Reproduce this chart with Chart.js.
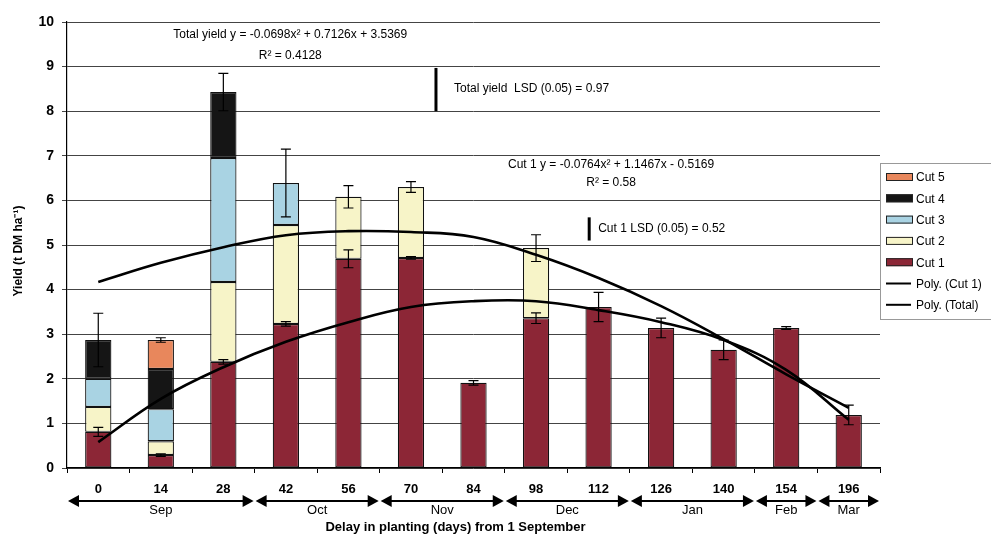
<!DOCTYPE html>
<html lang="en">
<head>
  <meta charset="UTF-8">
  <title>Yield by planting delay</title>
  <script src="https://cdn.jsdelivr.net/npm/chart.js"></script>
  <style>
    html, body { margin: 0; padding: 0; background: #fff; }
    #wrap { width: 991px; height: 537px; }
  </style>
</head>
<body>
  <div id="wrap"><canvas id="yieldChart" width="991" height="537"></canvas></div>

  <script>
    // days after 1 September
    const categories = ['0', '14', '28', '42', '56', '70', '84', '98', '112', '126', '140', '154', '196'];

    // month bands under the axis (first / last category index)
    const monthNames = ['Sep', 'Oct', 'Nov', 'Dec', 'Jan', 'Feb', 'Mar'];
    const monthStart = [0, 3, 5, 7, 9, 11, 12];
    const monthEnd   = [2, 4, 6, 8, 10, 11, 12];

    // yield per cut, t DM/ha
    const cut1 = [0.81, 0.29, 2.38, 3.23, 4.69, 4.71, 1.91, 3.36, 3.61, 3.14, 2.65, 3.14, 1.19];
    const cut2 = [0.56, 0.31, 1.79, 2.22, 1.39, 1.59, null, 1.57, null, null, null, null, null];
    const cut3 = [0.63, 0.72, 2.78, 0.94, null, null, null, null, null, null, null, null, null];
    const cut4 = [0.87, 0.90, 1.48, null, null, null, null, null, null, null, null, null, null];
    const cut5 = [null, 0.65, null, null, null, null, null, null, null, null, null, null, null];

    // error bars (half width)
    const totalErr = [0.60, 0.05, 0.42, 0.76, 0.25, 0.12, null, 0.30, null, null, null, null, null];
    const cut1Err  = [0.10, 0.03, 0.05, 0.05, 0.20, 0.03, 0.05, 0.12, 0.33, 0.22, 0.22, 0.03, 0.22];

    // fitted trend lines
    const polyTotal = [4.17, 4.60, 4.95, 5.22, 5.31, 5.29, 5.18, 4.78, 4.26, 3.63, 2.89, 2.10, 1.35];
    const polyCut1  = [0.58, 1.55, 2.26, 2.83, 3.27, 3.61, 3.74, 3.74, 3.54, 3.27, 2.87, 2.20, 1.08];

    const yTicks = [0, 1, 2, 3, 4, 5, 6, 7, 8, 9, 10];

    const FONT = '"Liberation Sans", Arial, sans-serif';
    const colors = {
      cut1: '#8c2636',
      cut2: '#f7f4c8',
      cut3: '#a9d3e3',
      cut4: '#151515',
      cut5: '#e8875c'
    };

    function totalAt(i) {
      return [cut1, cut2, cut3, cut4, cut5].reduce((s, arr) => s + (arr[i] || 0), 0);
    }

    function errBar(ctx, x, yTop, yBot) {
      ctx.beginPath();
      ctx.moveTo(x, yTop); ctx.lineTo(x, yBot);
      ctx.moveTo(x - 5, yTop); ctx.lineTo(x + 5, yTop);
      ctx.moveTo(x - 5, yBot); ctx.lineTo(x + 5, yBot);
      ctx.stroke();
    }

    function arrowHead(ctx, x, y, dir) {
      ctx.beginPath();
      ctx.moveTo(x, y);
      ctx.lineTo(x - dir * 11, y - 6);
      ctx.lineTo(x - dir * 11, y + 6);
      ctx.closePath();
      ctx.fill();
    }

    const extras = {
      id: 'extras',
      afterDatasetsDraw(chart) {
        const ctx = chart.ctx;
        const x = chart.scales.x, y = chart.scales.y;
        ctx.save();
        ctx.strokeStyle = '#000';
        ctx.lineWidth = 1.2;
        categories.forEach((c, i) => {
          const cx = x.getPixelForValue(i);
          if (totalErr[i] != null) {
            const t = totalAt(i);
            errBar(ctx, cx, y.getPixelForValue(t + totalErr[i]), y.getPixelForValue(t - totalErr[i]));
          }
          if (cut1Err[i] != null) {
            errBar(ctx, cx, y.getPixelForValue(cut1[i] + cut1Err[i]), y.getPixelForValue(cut1[i] - cut1Err[i]));
          }
        });
        ctx.restore();
      },
      afterDraw(chart) {
        const ctx = chart.ctx;
        const x = chart.scales.x, y = chart.scales.y;
        const area = chart.chartArea;
        ctx.save();
        ctx.fillStyle = '#000';
        ctx.strokeStyle = '#000';

        // equations and LSD bars
        ctx.font = '12px ' + FONT;
        ctx.textAlign = 'center';
        ctx.textBaseline = 'middle';
        ctx.fillText('Total yield y = -0.0698x\u00b2 + 0.7126x + 3.5369', x.getPixelForValue(3.07), y.getPixelForValue(9.71));
        ctx.fillText('R\u00b2 = 0.4128', x.getPixelForValue(3.07), y.getPixelForValue(9.24));
        ctx.fillText('Cut 1 y = -0.0764x\u00b2 + 1.1467x - 0.5169', x.getPixelForValue(8.2), y.getPixelForValue(6.79));
        ctx.fillText('R\u00b2 = 0.58', x.getPixelForValue(8.2), y.getPixelForValue(6.39));

        ctx.textAlign = 'left';
        ctx.lineWidth = 3;
        const lx1 = x.getPixelForValue(5.4);
        ctx.beginPath();
        ctx.moveTo(lx1, y.getPixelForValue(8.0));
        ctx.lineTo(lx1, y.getPixelForValue(8.97));
        ctx.stroke();
        ctx.fillText('Total yield  LSD (0.05) = 0.97', lx1 + 18, y.getPixelForValue(8.5));

        const lx2 = x.getPixelForValue(7.85);
        ctx.beginPath();
        ctx.moveTo(lx2, y.getPixelForValue(5.1));
        ctx.lineTo(lx2, y.getPixelForValue(5.62));
        ctx.stroke();
        ctx.fillText('Cut 1 LSD (0.05) = 0.52', lx2 + 9, y.getPixelForValue(5.36));

        // category labels, month arrows, axis title
        ctx.textAlign = 'center';
        ctx.font = 'bold 13px ' + FONT;
        categories.forEach((c, i) => {
          ctx.fillText(c, x.getPixelForValue(i), area.bottom + 21);
        });
        const step = x.getPixelForValue(1) - x.getPixelForValue(0);
        const ay = area.bottom + 33;
        ctx.lineWidth = 1.8;
        ctx.font = '13px ' + FONT;
        monthNames.forEach((m, k) => {
          const x0 = x.getPixelForValue(monthStart[k]) - step / 2 + 1;
          const x1 = x.getPixelForValue(monthEnd[k]) + step / 2 - 1;
          ctx.beginPath();
          ctx.moveTo(x0 + 6, ay);
          ctx.lineTo(x1 - 6, ay);
          ctx.stroke();
          arrowHead(ctx, x0, ay, -1);
          arrowHead(ctx, x1, ay, 1);
          ctx.fillText(m, (x0 + x1) / 2, ay + 9);
        });
        ctx.font = 'bold 13px ' + FONT;
        ctx.fillText('Delay in planting (days) from 1 September', (area.left + area.right) / 2 - 18, area.bottom + 59);

        // y title
        ctx.save();
        ctx.translate(19, (area.top + area.bottom) / 2 + 6);
        ctx.rotate(-Math.PI / 2);
        ctx.font = 'bold 12px ' + FONT;
        ctx.fillText('Yield (t DM ha\u207b\u00b9)', 0, 0);
        ctx.restore();

        // legend
        const lx = area.right;
        const ly = area.top + 141;
        ctx.strokeStyle = '#999';
        ctx.lineWidth = 1;
        ctx.strokeRect(lx + 0.5, ly + 0.5, 130, 156);
        const items = [
          ['Cut 5', colors.cut5, 'box'],
          ['Cut 4', colors.cut4, 'box'],
          ['Cut 3', colors.cut3, 'box'],
          ['Cut 2', colors.cut2, 'box'],
          ['Cut 1', colors.cut1, 'box'],
          ['Poly. (Cut 1)', '#000', 'line'],
          ['Poly. (Total)', '#000', 'line']
        ];
        ctx.font = '12px ' + FONT;
        ctx.textAlign = 'left';
        items.forEach((it, k) => {
          const iy = ly + 14 + k * 21.3;
          if (it[2] === 'box') {
            ctx.fillStyle = it[1];
            ctx.fillRect(lx + 6, iy - 4, 27, 8);
            ctx.strokeStyle = '#222';
            ctx.strokeRect(lx + 6.5, iy - 3.5, 26, 7);
          } else {
            ctx.strokeStyle = '#000';
            ctx.lineWidth = 2;
            ctx.beginPath();
            ctx.moveTo(lx + 6, iy);
            ctx.lineTo(lx + 31, iy);
            ctx.stroke();
            ctx.lineWidth = 1;
          }
          ctx.fillStyle = '#000';
          ctx.fillText(it[0], lx + 36, iy + 1);
        });
        ctx.restore();
      }
    };

    const barStyle = { borderColor: '#111', borderWidth: 1.2, borderSkipped: false, barPercentage: 0.42, categoryPercentage: 1, order: 2, stack: 'cuts' };

    new Chart(document.getElementById('yieldChart'), {
      type: 'bar',
      data: {
        labels: categories,
        datasets: [
          { label: 'Poly. (Cut 1)', type: 'line', data: polyCut1, borderColor: '#000', borderWidth: 2.6, pointRadius: 0, tension: 0.4, order: 0, stack: 'p1' },
          { label: 'Poly. (Total)', type: 'line', data: polyTotal, borderColor: '#000', borderWidth: 2.6, pointRadius: 0, tension: 0.4, order: 0, stack: 'p2' },
          Object.assign({ label: 'Cut 1', data: cut1, backgroundColor: colors.cut1 }, barStyle),
          Object.assign({ label: 'Cut 2', data: cut2, backgroundColor: colors.cut2 }, barStyle),
          Object.assign({ label: 'Cut 3', data: cut3, backgroundColor: colors.cut3 }, barStyle),
          Object.assign({ label: 'Cut 4', data: cut4, backgroundColor: colors.cut4 }, barStyle),
          Object.assign({ label: 'Cut 5', data: cut5, backgroundColor: colors.cut5 }, barStyle)
        ]
      },
      options: {
        responsive: false,
        animation: false,
        layout: { padding: { top: 22, right: 111, bottom: 0, left: 0 } },
        plugins: {
          legend: { display: false },
          tooltip: { enabled: false }
        },
        scales: {
          x: {
            stacked: true,
            offset: true,
            ticks: { display: false },
            grid: { offset: true, drawOnChartArea: false, tickLength: 5, color: '#000' },
            border: { color: '#000', width: 1.2 },
            afterFit(scale) { scale.height = 69; }
          },
          y: {
            stacked: true,
            min: 0,
            max: 10,
            afterBuildTicks(scale) { scale.ticks = yTicks.map(v => ({ value: v })); },
            ticks: { color: '#000', padding: 8, font: { family: FONT, size: 14, weight: 'bold' } },
            grid: { color: '#444', lineWidth: 1, tickLength: 5 },
            border: { color: '#000', width: 1.2 },
            afterFit(scale) { scale.width = 67; }
          }
        }
      },
      plugins: [extras]
    });
  </script>
</body>
</html>
